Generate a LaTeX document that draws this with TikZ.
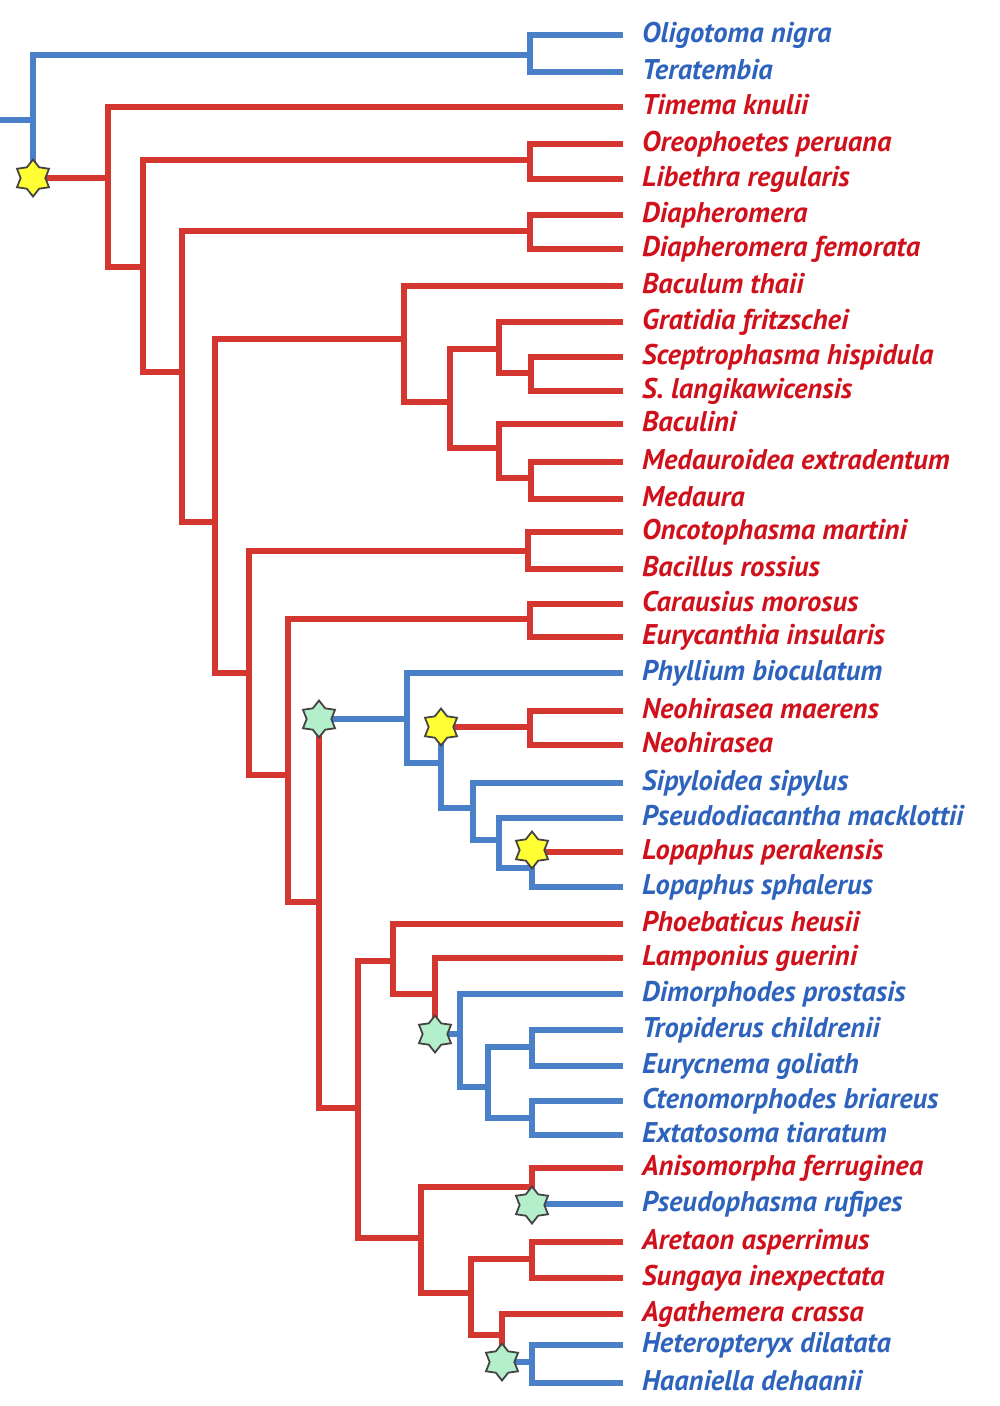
\documentclass[tikz,border=0pt]{standalone}
\usepackage{fontspec}
\setmainfont{PT Sans}
\usetikzlibrary{shapes.geometric}
\definecolor{lblue}{HTML}{4A80C8}
\definecolor{lred}{HTML}{D4372F}
\definecolor{tblue}{HTML}{2D63BD}
\definecolor{tred}{HTML}{D0111B}
\definecolor{sy}{HTML}{FFFF33}
\definecolor{sg}{HTML}{B4EFCB}
\definecolor{sedge}{HTML}{444444}
\pgfdeclarelayer{bg}
\pgfsetlayers{bg,main}
\begin{document}
\begin{tikzpicture}[x=1pt,y=-1pt,
 br/.style={lred,line width=5.5pt,line cap=rect,line join=miter},
 bb/.style={lblue,line width=5.5pt,line cap=rect,line join=miter},
 lab/.style={anchor=base west,inner sep=0pt,font=\fontsize{28.5}{28.5}\selectfont\bfseries\itshape},
 starbase/.style={star,star points=6,star point ratio=1.5,minimum size=37pt,inner sep=0pt,draw=sedge,line width=1.8pt},
 ystar/.style={starbase,fill=sy},
 gstar/.style={starbase,fill=sg}]
\useasboundingbox (0,0) rectangle (1000,1406);

\foreach \i/\y/\c/\t in {
1/35/tblue/Oligotoma nigra,
2/72/tblue/Teratembia,
3/107/tred/Timema knulii,
4/144/tred/Oreophoetes peruana,
5/179/tred/Libethra regularis,
6/215/tred/Diapheromera,
7/249/tred/Diapheromera femorata,
8/286/tred/Baculum thaii,
9/322/tred/Gratidia fritzschei,
10/357/tred/Sceptrophasma hispidula,
11/391/tred/S. langikawicensis,
12/424/tred/Baculini,
13/462/tred/Medauroidea extradentum,
14/499/tred/Medaura,
15/532/tred/Oncotophasma martini,
16/569/tred/Bacillus rossius,
17/604/tred/Carausius morosus,
18/637/tred/Eurycanthia insularis,
19/673/tblue/Phyllium bioculatum,
20/711/tred/Neohirasea maerens,
21/745/tred/Neohirasea,
22/783/tblue/Sipyloidea sipylus,
23/818/tblue/Pseudodiacantha macklottii,
24/852/tred/Lopaphus perakensis,
25/887/tblue/Lopaphus sphalerus,
26/924/tred/Phoebaticus heusii,
27/958/tred/Lamponius guerini,
28/994/tblue/Dimorphodes prostasis,
29/1030/tblue/Tropiderus childrenii,
30/1066/tblue/Eurycnema goliath,
31/1101/tblue/Ctenomorphodes briareus,
32/1135/tblue/Extatosoma tiaratum,
33/1168/tred/Anisomorpha ferruginea,
34/1204/tblue/Pseudophasma rufipes,
35/1242/tred/Aretaon asperrimus,
36/1278/tred/Sungaya inexpectata,
37/1314/tred/Agathemera crassa,
38/1345/tblue/Heteropteryx dilatata,
39/1383/tblue/Haaniella dehaanii}{
 \coordinate (t\i) at (620,\y);
 \node[lab,text=\c] (l\i) at (642,\y+7) {\t};
}

% internal nodes
\coordinate (stub) at (0,120);
\coordinate (root) at (33,120);
\coordinate (E) at (530,55);
\node[ystar] (S1) at (33,178) {};
\coordinate (n1) at (108,178);
\coordinate (n2) at (143,267);
\coordinate (O) at (530,160);
\coordinate (n3) at (182,372);
\coordinate (D) at (530,231);
\coordinate (n4) at (215,522);
\coordinate (n5) at (404,339);
\coordinate (n6) at (450,402);
\coordinate (n7) at (499,349);
\coordinate (n8) at (531,373);
\coordinate (n9) at (499,448);
\coordinate (n10) at (531,478);
\coordinate (n11) at (249,673);
\coordinate (Onc) at (528,551);
\coordinate (n12) at (288,775);
\coordinate (Car) at (530,619);
\coordinate (n13) at (319,902);
\node[gstar] (G1) at (319,719) {};
\coordinate (n14) at (407,719);
\coordinate (n15) at (441,763);
\node[ystar] (Y2) at (441,727) {};
\coordinate (Neo) at (530,727);
\coordinate (n16) at (473,808);
\coordinate (n17) at (499,840);
\coordinate (n17b) at (532,868);
\node[ystar] (Y3) at (532,850) {};
\coordinate (n18) at (358,1108);
\coordinate (n19) at (393,961);
\coordinate (n20) at (435,994);
\node[gstar] (G2) at (435,1034) {};
\coordinate (n21) at (460,1034);
\coordinate (n22) at (488,1087);
\coordinate (T) at (532,1047);
\coordinate (C) at (532,1118);
\coordinate (n23) at (421,1238);
\coordinate (A) at (532,1187);
\node[gstar] (G3) at (532,1205) {};
\coordinate (n24) at (471,1293);
\coordinate (Ar) at (532,1259);
\coordinate (n25) at (502,1335);
\node[gstar] (G4) at (502,1362) {};
\coordinate (H) at (532,1362);

\begin{pgfonlayer}{bg}
\fill[white] (0,0) rectangle (1000,1406);
% blue outgroup
\draw[bb] (stub) -- (root);
\draw[bb] (root) |- (E);
\draw[bb] (root) -- (S1.center);
\draw[bb] (E) |- (t1);
\draw[bb] (E) |- (t2);
% red backbone
\draw[br] (S1.center) -- (n1);
\draw[br] (n1) |- (t3);
\draw[br] (n1) |- (n2);
\draw[br] (n2) |- (O);
\draw[br] (n2) |- (n3);
\draw[br] (O) |- (t4);
\draw[br] (O) |- (t5);
\draw[br] (n3) |- (D);
\draw[br] (n3) |- (n4);
\draw[br] (D) |- (t6);
\draw[br] (D) |- (t7);
\draw[br] (n4) |- (n5);
\draw[br] (n4) |- (n11);
\draw[br] (n5) |- (t8);
\draw[br] (n5) |- (n6);
\draw[br] (n6) |- (n7);
\draw[br] (n6) |- (n9);
\draw[br] (n7) |- (t9);
\draw[br] (n7) |- (n8);
\draw[br] (n8) |- (t10);
\draw[br] (n8) |- (t11);
\draw[br] (n9) |- (t12);
\draw[br] (n9) |- (n10);
\draw[br] (n10) |- (t13);
\draw[br] (n10) |- (t14);
\draw[br] (n11) |- (Onc);
\draw[br] (n11) |- (n12);
\draw[br] (Onc) |- (t15);
\draw[br] (Onc) |- (t16);
\draw[br] (n12) |- (Car);
\draw[br] (n12) |- (n13);
\draw[br] (Car) |- (t17);
\draw[br] (Car) |- (t18);
\draw[br] (n13) -- (G1.center);
\draw[br] (n13) |- (n18);
% blue clade 1
\draw[bb] (G1.center) -- (n14);
\draw[bb] (n14) |- (t19);
\draw[bb] (n14) |- (n15);
\draw[bb] (n15) -- (Y2.center);
\draw[bb] (n15) |- (n16);
\draw[bb] (n16) |- (t22);
\draw[bb] (n16) |- (n17);
\draw[bb] (n17) |- (t23);
\draw[bb] (n17) |- (n17b);
\draw[bb] (n17b) -- (Y3.center);
\draw[bb] (n17b) |- (t25);
\draw[br] (Y2.center) -- (Neo);
\draw[br] (Neo) |- (t20);
\draw[br] (Neo) |- (t21);
\draw[br] (Y3.center) |- (t24);
% lower red
\draw[br] (n18) |- (n19);
\draw[br] (n18) |- (n23);
\draw[br] (n19) |- (t26);
\draw[br] (n19) |- (n20);
\draw[br] (n20) |- (t27);
\draw[br] (n20) -- (G2.center);
\draw[bb] (G2.center) -- (n21);
\draw[bb] (n21) |- (t28);
\draw[bb] (n21) |- (n22);
\draw[bb] (n22) |- (T);
\draw[bb] (n22) |- (C);
\draw[bb] (T) |- (t29);
\draw[bb] (T) |- (t30);
\draw[bb] (C) |- (t31);
\draw[bb] (C) |- (t32);
\draw[br] (n23) |- (A);
\draw[br] (n23) |- (n24);
\draw[br] (A) |- (t33);
\draw[br] (A) -- (G3.center);
\draw[bb] (G3.center) |- (t34);
\draw[br] (n24) |- (Ar);
\draw[br] (n24) |- (n25);
\draw[br] (Ar) |- (t35);
\draw[br] (Ar) |- (t36);
\draw[br] (n25) |- (t37);
\draw[br] (n25) -- (G4.center);
\draw[bb] (G4.center) -- (H);
\draw[bb] (H) |- (t38);
\draw[bb] (H) |- (t39);
\end{pgfonlayer}
\end{tikzpicture}
\end{document}
